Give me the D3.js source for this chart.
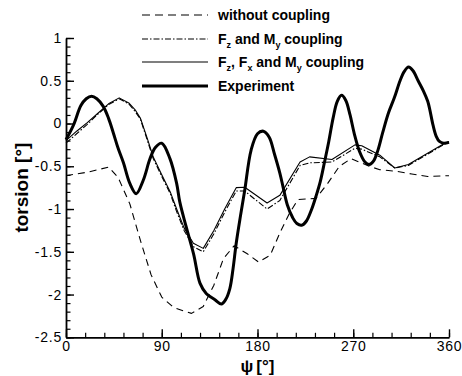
<!DOCTYPE html>
<html>
<head>
<meta charset="utf-8">
<script src="https://cdn.jsdelivr.net/npm/d3@7"></script>
<style>
  html, body { margin: 0; padding: 0; background: #fff; }
  svg { display: block; font-family: "Liberation Sans", Arial, sans-serif; }
</style>
</head>
<body>
<svg id="chart" width="462" height="376"></svg>
<script>
// Azimuth angle psi [deg] and torsion [deg] for each series
const withoutCoupling = [
  [0,-0.61],[10,-0.59],[20,-0.57],[30,-0.54],[40,-0.51],[49,-0.63],[60,-0.94],[70,-1.37],
  [80,-1.77],[90,-2.03],[101,-2.15],[110,-2.19],[118,-2.22],[129,-2.14],[139,-1.89],
  [148,-1.58],[158,-1.43],[170,-1.52],[181,-1.62],[192,-1.54],[201,-1.28],[210,-1.05],
  [218,-0.89],[235,-0.875],[246,-0.70],[257,-0.50],[268,-0.41],[285,-0.50],[295,-0.54],
  [311,-0.56],[325,-0.59],[340,-0.62],[360,-0.61]
];
const fzMyCoupling = [
  [0,-0.23],[10,-0.12],[20,-0.01],[30,0.11],[40,0.22],[50,0.29],[59,0.23],[65,0.14],[70,0.05],
  [76,-0.18],[82,-0.41],[90,-0.62],[98,-0.82],[104,-1.03],[111,-1.25],[119.7,-1.44],[129,-1.50],
  [139,-1.29],[149.5,-1.03],[160,-0.79],[168,-0.79],[189,-1.00],[201,-0.90],[220,-0.49],
  [229,-0.46],[250,-0.45],[271.6,-0.29],[278,-0.30],[295,-0.39],[309,-0.52],[321.8,-0.49],
  [356,-0.24],[360,-0.22]
];
const fzFxMyCoupling = [
  [0,-0.20],[10,-0.09],[20,0.01],[30,0.12],[40,0.23],[50,0.30],[59,0.24],[65,0.16],[70,0.06],
  [76,-0.16],[82,-0.39],[90,-0.60],[98,-0.80],[104,-1.00],[111,-1.22],[119.7,-1.40],[129,-1.46],
  [139,-1.25],[149.5,-0.99],[160,-0.75],[168,-0.745],[189,-0.93],[201,-0.84],[220,-0.45],
  [229,-0.39],[250,-0.42],[271.6,-0.25],[278,-0.26],[295,-0.37],[309,-0.52],[321.8,-0.48],
  [356,-0.23],[360,-0.21]
];
const experiment = [
  [0,-0.19],[7,-0.02],[14,0.21],[19,0.29],[24,0.32],[29,0.29],[35,0.20],[40,0.06],[44.5,-0.11],
  [49,-0.29],[54,-0.46],[60,-0.70],[66,-0.82],[72.7,-0.66],[79,-0.41],[84,-0.28],[90,-0.23],
  [97.7,-0.41],[104,-0.70],[107,-0.92],[113,-1.21],[120,-1.53],[126,-1.87],[132,-1.99],
  [140,-2.06],[146,-2.11],[150,-2.06],[154,-1.93],[157,-1.70],[160,-1.40],[164,-1.08],
  [168,-0.78],[174,-0.31],[180,-0.12],[185.5,-0.09],[191,-0.16],[196,-0.36],[201,-0.58],
  [204,-0.74],[208,-0.95],[213,-1.10],[217,-1.17],[221.5,-1.19],[226,-1.14],[231,-1.00],
  [235,-0.85],[239,-0.68],[243,-0.45],[247,-0.21],[251,0.06],[255,0.26],[259,0.33],[263,0.27],
  [267,0.10],[271,-0.12],[276,-0.33],[281,-0.45],[285,-0.48],[289,-0.44],[293,-0.32],
  [297.6,-0.11],[303,0.12],[308.6,0.30],[314,0.50],[318,0.61],[322,0.66],[326,0.62],[331,0.50],
  [336,0.38],[340,0.26],[342,0.16],[345,-0.02],[348,-0.15],[351,-0.21],[355,-0.23],[360,-0.22]
];

const xTicks = [0, 90, 180, 270, 360];
const xMinorTicks = d3.range(0, 361, 18);
const yTicks = [-2.5, -2, -1.5, -1, -0.5, 0, 0.5, 1];
const yMinorTicks = d3.range(-25, 11, 1).map(v => v / 10);

const seriesNames = ["without coupling", "Fz and My coupling", "Fz, Fx and My coupling", "Experiment"];

const svg = d3.select("#chart");
const x = d3.scaleLinear().domain([0, 360]).range([66, 449]);
const y = d3.scaleLinear().domain([-2.5, 1]).range([337.3, 38]);

// minor ticks (inward)
svg.append("g").attr("transform", `translate(0,${y(-2.5)})`)
  .call(d3.axisBottom(x).tickValues(xMinorTicks).tickSizeInner(-4.5).tickSizeOuter(0).tickFormat(""))
  .call(g => g.select(".domain").remove())
  .selectAll("line").attr("stroke", "#000").attr("stroke-width", 1.2);
svg.append("g").attr("transform", `translate(${x(0)},0)`)
  .call(d3.axisLeft(y).tickValues(yMinorTicks).tickSizeInner(-4.5).tickSizeOuter(0).tickFormat(""))
  .call(g => g.select(".domain").remove())
  .selectAll("line").attr("stroke", "#000").attr("stroke-width", 1.2);

// major axes
const xAxis = svg.append("g").attr("transform", `translate(0,${y(-2.5)})`)
  .call(d3.axisBottom(x).tickValues(xTicks).tickSizeInner(-8).tickSizeOuter(0).tickPadding(4)
    .tickFormat(d => String(d)));
const yAxis = svg.append("g").attr("transform", `translate(${x(0)},0)`)
  .call(d3.axisLeft(y).tickValues(yTicks).tickSizeInner(-8).tickSizeOuter(0).tickPadding(4)
    .tickFormat(d => String(d)));
[xAxis, yAxis].forEach(g => {
  g.select(".domain").attr("stroke", "#000").attr("stroke-width", 1.8);
  g.selectAll(".tick line").attr("stroke", "#000").attr("stroke-width", 1.4);
  g.selectAll(".tick text").attr("fill", "#000")
    .style("font-family", "'Liberation Sans', Arial, sans-serif").style("font-size", "14px")
    .style("letter-spacing", "0.8px");
});

// axis titles
svg.append("text")
  .attr("transform", `translate(28,${(y(1) + y(-2.5)) / 2}) rotate(-90)`)
  .attr("text-anchor", "middle")
  .style("font-size", "19px").style("font-weight", "bold")
  .text("torsion [°]");
const psiLabel = svg.append("text")
  .attr("x", x(180)).attr("y", 372)
  .attr("text-anchor", "middle")
  .style("font-size", "17px").style("font-weight", "bold");
psiLabel.append("tspan").text("ψ");
psiLabel.append("tspan").attr("dx", 3).text("[°]");

// curves
const styles = [
  { data: withoutCoupling, width: 1.1, dash: "7,5", curve: d3.curveLinear },
  { data: fzMyCoupling, width: 1.1, dash: "6,2,1.5,2", curve: d3.curveLinear },
  { data: fzFxMyCoupling, width: 1.1, dash: null, curve: d3.curveLinear },
  { data: experiment, width: 3, dash: null, curve: d3.curveCatmullRom }
];
styles.forEach(s => {
  const line = d3.line().x(d => x(d[0])).y(d => y(d[1])).curve(s.curve);
  svg.append("path").datum(s.data)
    .attr("d", line)
    .attr("fill", "none").attr("stroke", "#000")
    .attr("stroke-width", s.width)
    .attr("stroke-linejoin", "round")
    .attr("stroke-dasharray", s.dash);
});

// legend
const legendRows = [15, 39, 62, 86];
const legend = svg.append("g");
styles.forEach((s, i) => {
  legend.append("line")
    .attr("x1", 142).attr("x2", 208)
    .attr("y1", legendRows[i]).attr("y2", legendRows[i])
    .attr("stroke", "#000").attr("stroke-width", s.width)
    .attr("stroke-dasharray", i === 0 ? "8,5" : (i === 1 ? "6,2,1.5,2" : null));
});
const labelParts = [
  [["without coupling", false]],
  [["F", false], ["z", true], [" and M", false], ["y", true], [" coupling", false]],
  [["F", false], ["z", true], [", F", false], ["x", true], [" and M", false], ["y", true], [" coupling", false]],
  [["Experiment", false]]
];
labelParts.forEach((parts, i) => {
  const t = legend.append("text")
    .attr("x", 218).attr("y", legendRows[i] + 5)
    .style("font-size", "14px").style("font-weight", "bold");
  let sub = false;
  parts.forEach(([txt, isSub]) => {
    const ts = t.append("tspan").text(txt);
    if (isSub && !sub) { ts.attr("dy", 3.5).style("font-size", "9px"); sub = true; }
    else if (!isSub && sub) { ts.attr("dy", -3.5); sub = false; }
  });
});
</script>
</body>
</html>
